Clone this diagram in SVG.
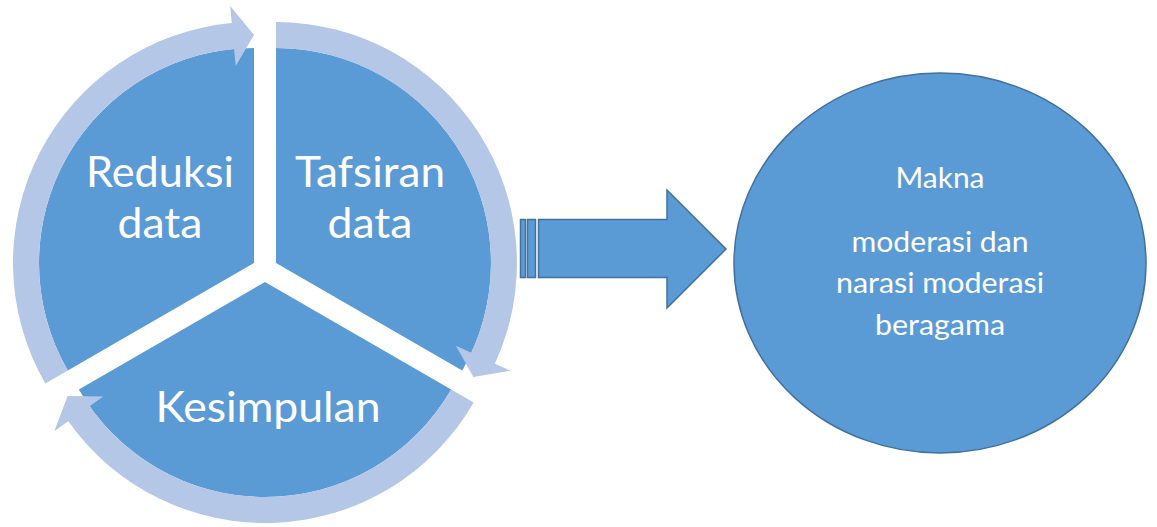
<svg xmlns="http://www.w3.org/2000/svg" width="1157" height="527" viewBox="0 0 1157 527">
  <style>
    .seg { fill: #5B9BD5; }
    .cyc { fill: #B4C7E7; }
    .blk { fill: #5B9BD5; stroke: #41719C; stroke-width: 1.5; }
    .big { font-family: Lato, "Liberation Sans", sans-serif; font-size: 42px; fill: #FFFFFF; text-anchor: middle; }
    .small { font-family: Lato, "Liberation Sans", sans-serif; font-size: 28px; fill: #FFFFFF; text-anchor: middle; }
  </style>
  <rect width="1157" height="527" fill="#FFFFFF"/>

  <g id="node-reduksi">
    <path class="seg" d="M254,263 L67.8,370.5 A215,215 0 0 1 254,48 Z"/>
    <text class="big" x="160" y="187" textLength="148" lengthAdjust="spacingAndGlyphs">Reduksi</text>
    <text class="big" x="160" y="238" textLength="85" lengthAdjust="spacingAndGlyphs">data</text>
  </g>
  <g id="node-tafsiran">
    <path class="seg" d="M276,263 L276,48 A215,215 0 0 1 462.2,370.5 Z"/>
    <text class="big" x="370" y="187" textLength="150" lengthAdjust="spacingAndGlyphs">Tafsiran</text>
    <text class="big" x="370" y="238" textLength="85" lengthAdjust="spacingAndGlyphs">data</text>
  </g>
  <g id="node-kesimpulan">
    <path class="seg" d="M265,282 L451.2,389.5 A215,215 0 0 1 78.8,389.5 Z"/>
    <text class="big" x="268" y="422" textLength="225" lengthAdjust="spacingAndGlyphs">Kesimpulan</text>
  </g>

  <g id="connectors">
    <path class="cyc" d="M45.3,383.5 A241,241 0 0 1 231.7,23 L230.2,6.1 L254,35 L235.7,65.9 L234.1,48.9 A215,215 0 0 0 67.8,370.5 Z"/>
    <path class="cyc" d="M276,22 A241,241 0 0 1 494.9,363.7 L510.4,370.8 L473.4,377 L455.9,345.7 L471.3,352.8 A215,215 0 0 0 276,48 Z"/>
    <path class="cyc" d="M473.7,402.5 A241,241 0 0 1 68.3,421.3 L54.4,431.1 L67.6,396 L103.4,396.4 L89.5,406.2 A215,215 0 0 0 451.2,389.5 Z"/>
    <g id="block-arrow">
      <rect class="blk" x="520.5" y="219.5" width="5" height="58"/>
      <rect class="blk" x="527.5" y="219.5" width="8" height="58"/>
      <path class="blk" d="M538.5,219.5 L667,219.5 L667,190 L726,249 L667,308 L667,277.5 L538.5,277.5 Z"/>
    </g>
  </g>

  <g id="node-makna">
    <ellipse cx="940" cy="263" rx="206" ry="190" fill="#5B9BD5" stroke="#41719C" stroke-width="1.5"/>
    <text class="small" x="940" y="188" textLength="89" lengthAdjust="spacingAndGlyphs">Makna</text>
    <text class="small" x="940" y="252" textLength="177" lengthAdjust="spacingAndGlyphs">moderasi dan</text>
    <text class="small" x="940" y="293" textLength="208" lengthAdjust="spacingAndGlyphs">narasi moderasi</text>
    <text class="small" x="940" y="335" textLength="130" lengthAdjust="spacingAndGlyphs">beragama</text>
  </g>
</svg>
